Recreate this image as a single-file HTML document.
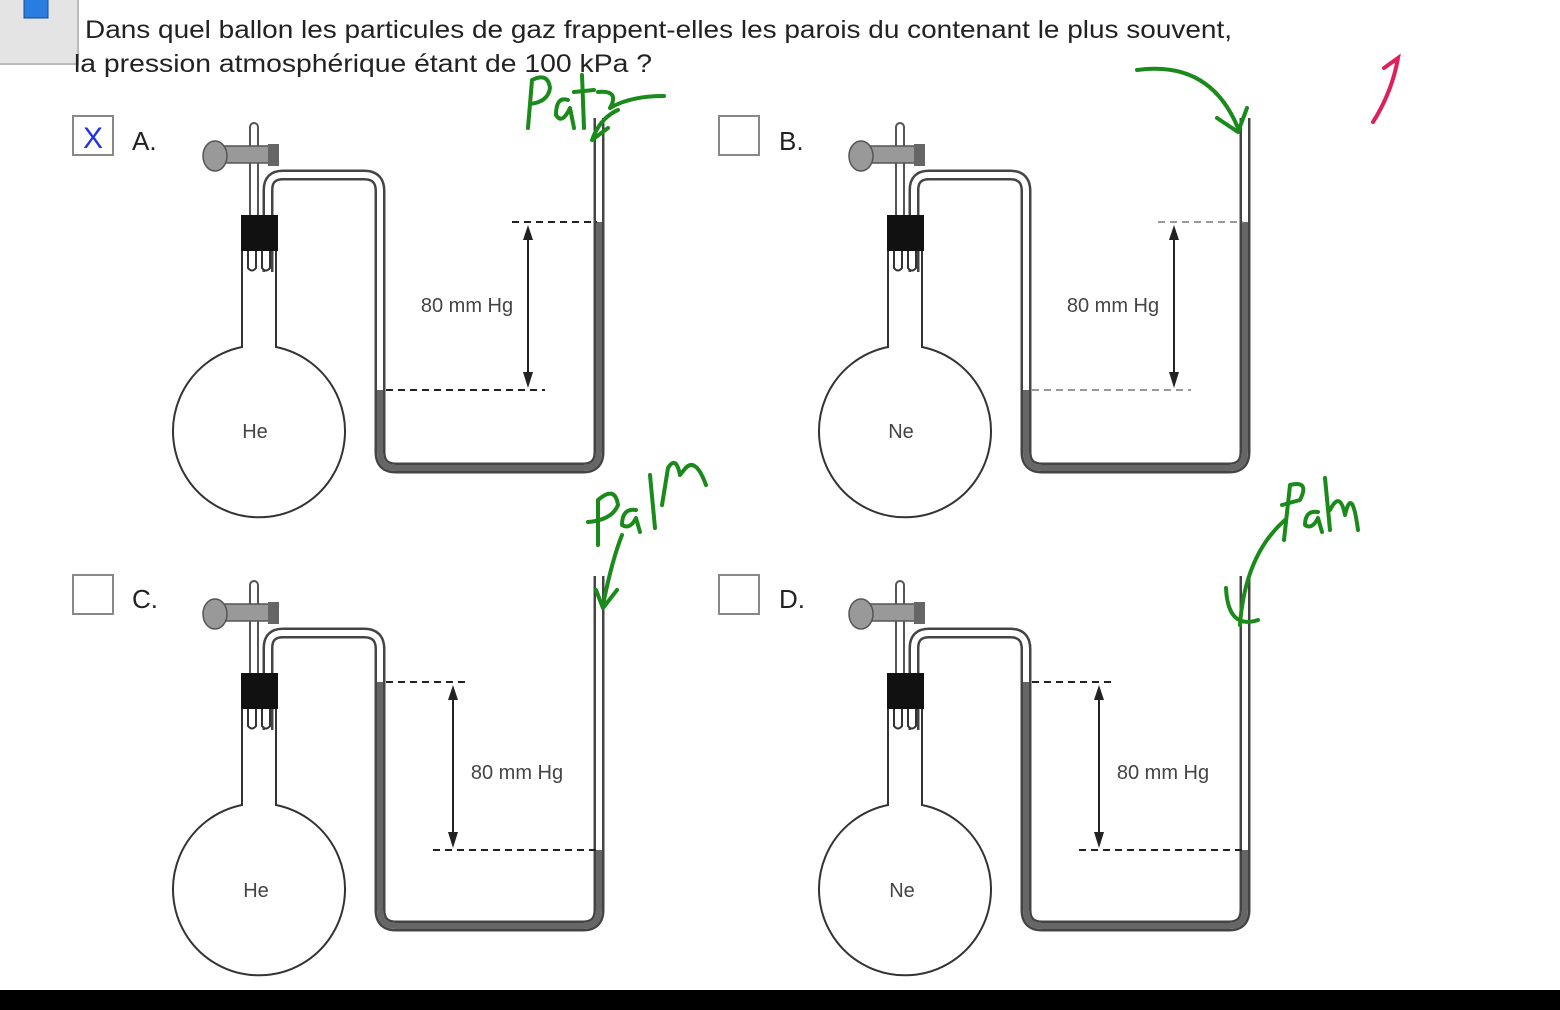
<!DOCTYPE html>
<html><head><meta charset="utf-8"><style>
html,body{margin:0;padding:0;background:#fff;width:1560px;height:1010px;overflow:hidden}
svg{display:block}
text{font-family:"Liberation Sans",Arial,sans-serif}
</style></head><body>
<svg width="1560" height="1010" viewBox="0 0 1560 1010" xmlns="http://www.w3.org/2000/svg">
<defs>
<g id="app">
  <!-- bulb -->
  <path d="M242,240 V347 A86,86 0 1 0 276,347 V240" fill="#fff" stroke="#333" stroke-width="2"/>
  <!-- stopcock tube -->
  <rect x="250" y="123" width="8" height="95" rx="4" fill="#fff" stroke="#555" stroke-width="2"/>
  <!-- stopcock -->
  <rect x="220" y="146" width="50" height="17" fill="#999" stroke="#555" stroke-width="1.5"/>
  <rect x="268" y="144" width="11" height="22" fill="#666"/>
  <ellipse cx="215" cy="156" rx="12" ry="15" fill="#999" stroke="#555" stroke-width="1.5"/>
  <!-- manometer tube -->
  <path d="M268,272 V190 Q268,175 283,175 H364 Q380,175 380,191 V452 Q380,468 396,468 H583 Q599,468 599,452 V118" fill="none" stroke="#444" stroke-width="11"/>
  <path d="M268,272 V190 Q268,175 283,175 H364 Q380,175 380,191 V452 Q380,468 396,468 H583 Q599,468 599,452 V116" fill="none" stroke="#fff" stroke-width="6"/>
  <!-- stopper -->
  <rect x="241" y="215" width="37" height="36" fill="#111"/>
  <path d="M248,251 V268 Q252,273 256,268 V251 M262,251 V268 Q266,273 270,268 V251" fill="#fff" stroke="#333" stroke-width="2"/>
</g>
</defs>

<!-- top-left window chrome -->
<rect x="-2" y="-2" width="80" height="66" fill="#e4e4e4" stroke="#bbb" stroke-width="2"/>
<rect x="24" y="-4" width="24" height="22" fill="#2a7de0" stroke="#1446a0"/>

<text x="85" y="38" font-size="25" fill="#222" textLength="1147" lengthAdjust="spacingAndGlyphs">Dans quel ballon les particules de gaz frappent-elles les parois du contenant le plus souvent,</text>
<text x="74" y="72" font-size="25" fill="#222" textLength="578" lengthAdjust="spacingAndGlyphs">la pression atmosphérique étant de 100 kPa ?</text>

<!-- checkboxes -->
<rect x="73" y="116" width="40" height="39" fill="#fff" stroke="#888" stroke-width="2"/>
<text x="93" y="148" font-size="30" fill="#2233dd" text-anchor="middle" font-family="Liberation Serif">X</text>
<text x="132" y="150" font-size="26" fill="#222">A.</text>
<rect x="719" y="116" width="40" height="39" fill="#fff" stroke="#888" stroke-width="2"/>
<text x="779" y="150" font-size="26" fill="#222">B.</text>
<rect x="73" y="575" width="40" height="39" fill="#fff" stroke="#888" stroke-width="2"/>
<text x="132" y="608" font-size="26" fill="#222">C.</text>
<rect x="719" y="575" width="40" height="39" fill="#fff" stroke="#888" stroke-width="2"/>
<text x="779" y="608" font-size="26" fill="#222">D.</text>

<!-- Panel A -->
<g>
  <use href="#app"/>
  <path d="M380,390 V452 Q380,468 396,468 H583 Q599,468 599,452 V222" fill="none" stroke="#666" stroke-width="6"/>
  <path d="M512,222 H597 M386,390 H545" stroke="#222" stroke-width="2" stroke-dasharray="7,5"/>
  <path d="M528,232 V380" stroke="#222" stroke-width="2"/>
  <path d="M523,240 L528,225 L533,240 Z M523,372 L528,388 L533,372 Z" fill="#222"/>
  <text x="467" y="312" font-size="20" fill="#444" text-anchor="middle">80 mm Hg</text>
  <text x="255" y="438" font-size="20" fill="#444" text-anchor="middle">He</text>
</g>
<!-- Panel B -->
<g transform="translate(646,0)">
  <use href="#app"/>
  <path d="M380,390 V452 Q380,468 396,468 H583 Q599,468 599,452 V222" fill="none" stroke="#666" stroke-width="6"/>
  <path d="M512,222 H597 M386,390 H545" stroke="#999" stroke-width="2" stroke-dasharray="7,5"/>
  <path d="M528,232 V380" stroke="#222" stroke-width="2"/>
  <path d="M523,240 L528,225 L533,240 Z M523,372 L528,388 L533,372 Z" fill="#222"/>
  <text x="467" y="312" font-size="20" fill="#444" text-anchor="middle">80 mm Hg</text>
  <text x="255" y="438" font-size="20" fill="#444" text-anchor="middle">Ne</text>
</g>
<!-- Panel C -->
<g transform="translate(0,458)">
  <use href="#app"/>
  <path d="M380,224 V452 Q380,468 396,468 H583 Q599,468 599,452 V392" fill="none" stroke="#666" stroke-width="6"/>
  <path d="M386,224 H465 M433,392 H600" stroke="#222" stroke-width="2" stroke-dasharray="7,5"/>
  <path d="M453,234 V382" stroke="#222" stroke-width="2"/>
  <path d="M448,242 L453,227 L458,242 Z M448,374 L453,390 L458,374 Z" fill="#222"/>
  <text x="517" y="321" font-size="20" fill="#444" text-anchor="middle">80 mm Hg</text>
  <text x="256" y="439" font-size="20" fill="#444" text-anchor="middle">He</text>
</g>
<!-- Panel D -->
<g transform="translate(646,458)">
  <use href="#app"/>
  <path d="M380,224 V452 Q380,468 396,468 H583 Q599,468 599,452 V392" fill="none" stroke="#666" stroke-width="6"/>
  <path d="M386,224 H465 M433,392 H600" stroke="#222" stroke-width="2" stroke-dasharray="7,5"/>
  <path d="M453,234 V382" stroke="#222" stroke-width="2"/>
  <path d="M448,242 L453,227 L458,242 Z M448,374 L453,390 L458,374 Z" fill="#222"/>
  <text x="517" y="321" font-size="20" fill="#444" text-anchor="middle">80 mm Hg</text>
  <text x="256" y="439" font-size="20" fill="#444" text-anchor="middle">Ne</text>
</g>

<!-- handwriting (green) -->
<g fill="none" stroke="#1a8a1a" stroke-width="4" stroke-linecap="round" stroke-linejoin="round">
  <!-- Patm near A -->
  <path d="M528,128 L532,80 Q548,72 550,88 Q548,102 530,104"/>
  <path d="M568,100 Q556,96 556,115 Q562,125 570,108 L574,128"/>
  <path d="M582,75 L584,128 M574,92 L594,90"/>
  <path d="M598,92 Q620,90 610,108 Q630,96 664,96"/>
  <path d="M618,110 Q600,118 592,140 L608,128"/>
  <!-- arrow to B -->
  <path d="M1137,70 Q1210,60 1238,128"/>
  <path d="M1217,118 L1238,132 L1247,108"/>
  <!-- Patm near C -->
  <path d="M598,545 L598,500 Q615,485 618,505 Q612,520 588,522"/>
  <path d="M636,510 Q622,508 622,525 Q630,530 636,518 L640,532"/>
  <path d="M650,475 L655,528"/>
  <path d="M662,505 L668,468 Q676,455 680,475 L684,470 Q695,455 706,485"/>
  <path d="M622,535 Q612,560 603,605 M596,590 L603,608 L617,590"/>
  <!-- Patm near D -->
  <path d="M1284,540 L1290,485 Q1310,480 1300,500 L1282,505"/>
  <path d="M1318,512 Q1305,510 1305,525 Q1312,530 1318,518 L1322,532"/>
  <path d="M1325,478 L1330,530 M1330,510 Q1340,490 1345,515 Q1352,485 1358,530"/>
  <path d="M1285,520 Q1245,555 1240,625 M1226,588 Q1228,630 1258,620"/>
</g>
<!-- red mark -->
<path d="M1373,122 Q1392,92 1398,58 L1384,68" fill="none" stroke="#e0205a" stroke-width="4" stroke-linecap="round"/>

<!-- bottom bar -->
<rect x="0" y="990" width="1560" height="20" fill="#000"/>
</svg>
</body></html>
